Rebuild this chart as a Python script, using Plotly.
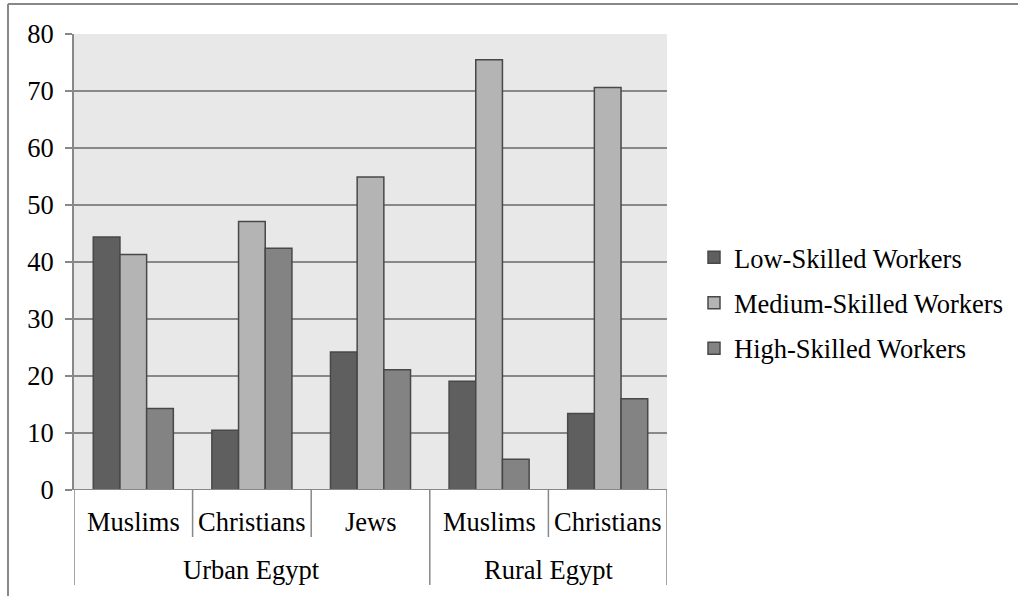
import plotly.graph_objects as go

# Occupational skill shares by religious community, urban vs rural Egypt
groups = ["Urban Egypt", "Urban Egypt", "Urban Egypt", "Rural Egypt", "Rural Egypt"]
communities = ["Muslims", "Christians", "Jews", "Muslims", "Christians"]
low_skilled = [44.4, 10.5, 24.2, 19.1, 13.4]
medium_skilled = [41.3, 47.1, 54.9, 75.5, 70.6]
high_skilled = [14.3, 42.4, 21.1, 5.4, 16.0]
series_names = ["Low-Skilled Workers", "Medium-Skilled Workers", "High-Skilled Workers"]
series_colors = ["#5f5f5f", "#b4b4b4", "#838383"]
y_ticks = [0, 10, 20, 30, 40, 50, 60, 70, 80]

FONT = "Liberation Serif"
FSIZE = 26.5
GRID = "#888888"

xpos = list(range(len(communities)))

fig = go.Figure()
for name, vals, col in zip(series_names, [low_skilled, medium_skilled, high_skilled], series_colors):
    fig.add_trace(go.Bar(
        x=xpos, y=vals, name=name, legendgroup=name,
        marker=dict(color=col, line=dict(color="#484848", width=1.5)),
    ))

# plot area geometry (pixels)
W, H = 1018, 596
L, R, T, B = 74, 1018 - 667, 34, 596 - 490
pw, ph = W - L - R, H - T - B


def px_x(p):
    return (p - L) / pw


def px_y(p):
    return (H - B - p) / ph


shapes = []
# inner category boundaries
for xb in [0.5, 1.5, 3.5]:
    shapes.append(dict(type="line", xref="x", yref="paper", x0=xb, x1=xb,
                       y0=0, y1=px_y(537), line=dict(color=GRID, width=1.5)))
# outer group dividers
for xb in [-0.5, 2.5, 4.5]:
    shapes.append(dict(type="line", xref="x", yref="paper", x0=xb, x1=xb,
                       y0=0, y1=px_y(585), line=dict(color=GRID, width=1.5)))
# category axis baseline
shapes.append(dict(type="line", xref="paper", yref="y", x0=px_x(67), x1=1, y0=0, y1=0,
                   line=dict(color=GRID, width=2)))
# chart frame
shapes.append(dict(type="line", xref="paper", yref="paper", x0=px_x(8), x1=px_x(8),
                   y0=px_y(4), y1=px_y(600), line=dict(color=GRID, width=2)))
shapes.append(dict(type="line", xref="paper", yref="paper", x0=px_x(8), x1=px_x(1020),
                   y0=px_y(4), y1=px_y(4), line=dict(color=GRID, width=2)))

annotations = []
for x, c in zip(xpos, communities):
    annotations.append(dict(x=x, y=px_y(522), xref="x", yref="paper", text=c,
                            showarrow=False, font=dict(family=FONT, size=FSIZE, color="black"),
                            xanchor="center", yanchor="middle"))
# outer group labels centred over their members
seen = []
for g in groups:
    if g not in seen:
        seen.append(g)
for g in seen:
    idx = [i for i, gg in enumerate(groups) if gg == g]
    xc = (min(idx) + max(idx)) / 2
    annotations.append(dict(x=xc, y=px_y(570), xref="x", yref="paper", text=g,
                            showarrow=False, font=dict(family=FONT, size=FSIZE, color="black"),
                            xanchor="center", yanchor="middle"))

fig.update_layout(
    width=W, height=H,
    margin=dict(l=L, r=R, t=T, b=B, pad=0, autoexpand=False),
    paper_bgcolor="white",
    plot_bgcolor="#e8e8e8",
    font=dict(family=FONT, size=FSIZE, color="black"),
    barmode="group", bargap=0.325, bargroupgap=0,
    showlegend=True,
    legend=dict(x=px_x(694), y=px_y(303), xanchor="left", yanchor="middle",
                font=dict(family=FONT, size=FSIZE, color="black"),
                tracegroupgap=8, itemwidth=30, bgcolor="rgba(0,0,0,0)"),
    shapes=shapes,
    annotations=annotations,
)
fig.update_xaxes(range=[-0.5, 4.5], showticklabels=False, showgrid=False,
                 zeroline=False, showline=False, ticks="")
fig.update_yaxes(range=[0, 80], tickvals=y_ticks, showgrid=True, gridcolor=GRID, gridwidth=2,
                 zeroline=False, showline=True, linecolor=GRID, linewidth=2,
                 ticks="outside", ticklen=7, tickcolor=GRID, tickwidth=2,
                 ticklabelstandoff=6,
                 tickfont=dict(family=FONT, size=FSIZE, color="black"))

fig.write_html("out.html")
